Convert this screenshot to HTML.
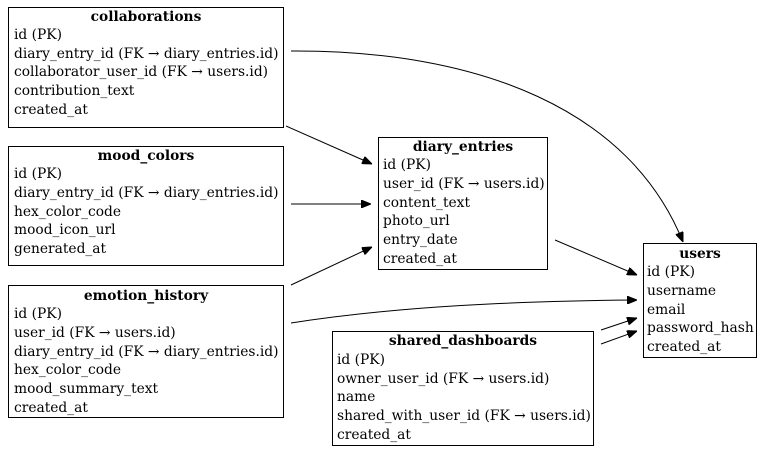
<!DOCTYPE html>
<html><head><meta charset="utf-8"><style>
html,body{margin:0;padding:0;background:#fff;width:768px;height:454px;overflow:hidden}
svg{display:block}
text{font-family:"DejaVu Serif","Liberation Serif",serif;font-size:13.8px;fill:#000}
.t{font-weight:bold;text-anchor:middle}
rect{fill:none;stroke:#000;stroke-width:1}
path{fill:none;stroke:#000;stroke-width:1}
</style></head><body>
<svg width="768" height="454" viewBox="0 0 768 454">
<defs><marker id="a" viewBox="0 0 10 8" refX="10" refY="4" markerWidth="10" markerHeight="8" markerUnits="userSpaceOnUse" orient="auto"><path d="M0,0L10,4L0,8z" style="fill:#000;stroke:#000"/></marker></defs>

<rect x="8.5" y="7.5" width="275" height="120"/>
<text class="t" x="146" y="21">collaborations</text>
<text x="14" y="39">id (PK)</text>
<text x="14" y="58">diary_entry_id (FK → diary_entries.id)</text>
<text x="14" y="76">collaborator_user_id (FK → users.id)</text>
<text x="14" y="95">contribution_text</text>
<text x="14" y="114">created_at</text>

<rect x="8.5" y="146.5" width="275" height="119"/>
<text class="t" x="146" y="160">mood_colors</text>
<text x="14" y="178">id (PK)</text>
<text x="14" y="197">diary_entry_id (FK → diary_entries.id)</text>
<text x="14" y="216">hex_color_code</text>
<text x="14" y="234">mood_icon_url</text>
<text x="14" y="253">generated_at</text>

<rect x="8.5" y="285.5" width="275" height="132"/>
<text class="t" x="146" y="300">emotion_history</text>
<text x="14" y="318">id (PK)</text>
<text x="14" y="337">user_id (FK → users.id)</text>
<text x="14" y="356">diary_entry_id (FK → diary_entries.id)</text>
<text x="14" y="374">hex_color_code</text>
<text x="14" y="393">mood_summary_text</text>
<text x="14" y="412">created_at</text>

<rect x="378.5" y="137.5" width="169" height="132"/>
<text class="t" x="463" y="151">diary_entries</text>
<text x="383" y="169">id (PK)</text>
<text x="383" y="188">user_id (FK → users.id)</text>
<text x="383" y="207">content_text</text>
<text x="383" y="225">photo_url</text>
<text x="383" y="244">entry_date</text>
<text x="383" y="263">created_at</text>

<rect x="643.5" y="243.5" width="113" height="114"/>
<text class="t" x="700" y="258">users</text>
<text x="647" y="276">id (PK)</text>
<text x="647" y="295">username</text>
<text x="647" y="314">email</text>
<text x="647" y="332">password_hash</text>
<text x="647" y="351">created_at</text>

<rect x="332.5" y="331.5" width="261" height="114"/>
<text class="t" x="463" y="345">shared_dashboards</text>
<text x="337" y="364">id (PK)</text>
<text x="337" y="383">owner_user_id (FK → users.id)</text>
<text x="337" y="401">name</text>
<text x="337" y="420">shared_with_user_id (FK → users.id)</text>
<text x="337" y="439">created_at</text>

<path d="M291,51 C480,50 630,110 683,242" marker-end="url(#a)"/>
<path d="M286,126 L372,164" marker-end="url(#a)"/>
<path d="M291,204 L371,204" marker-end="url(#a)"/>
<path d="M291,285 L372,247" marker-end="url(#a)"/>
<path d="M555,240 L637,275" marker-end="url(#a)"/>
<path d="M291,323 C400,306 520,301 637,300" marker-end="url(#a)"/>
<path d="M601,330 L637,318" marker-end="url(#a)"/>
<path d="M601,344 L637,331" marker-end="url(#a)"/>
</svg>
</body></html>
